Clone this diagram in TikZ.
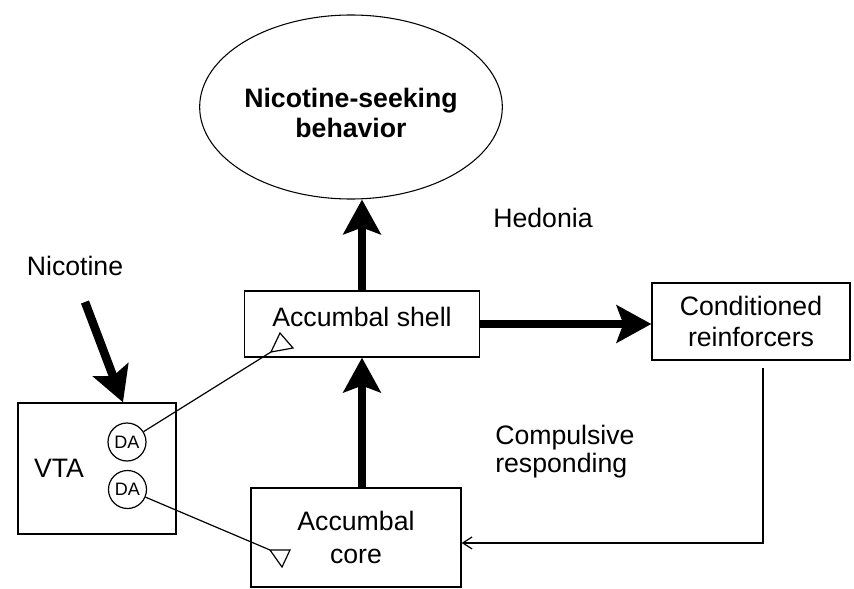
\documentclass[tikz,border=0pt]{standalone}
\usepackage{fontspec}
\setmainfont{Liberation Sans}
\usetikzlibrary{arrows.meta,shapes.geometric}
\begin{document}
\begin{tikzpicture}[x=0.75pt,y=-0.75pt,
  box/.style={draw, line width=1pt, rectangle, inner sep=0pt},
  lbl/.style={font=\fontsize{20}{23}\selectfont, inner sep=0pt},
  big/.style={line width=6.4pt, -{Stealth[length=26pt,width=28pt,inset=5pt]}},
  wire/.style={line width=0.9pt},
  danode/.style={circle, draw, line width=0.9pt, minimum size=28.5pt, inner sep=0pt, font=\fontsize{13.5}{15}\selectfont}
]
\useasboundingbox (0,0) rectangle (854,589);

% nodes
\node[ellipse, draw, line width=0.8pt, minimum width=227pt, minimum height=138pt, inner sep=0pt, align=center, font=\fontsize{20}{22.5}\selectfont\bfseries] (nsb) at (351,107) {\rule{0pt}{24pt}Nicotine-seeking\\behavior};

\node[box, lbl, minimum width=176.25pt, minimum height=49.5pt, text height=15pt, text depth=12pt] (shell) at (362,324) {Accumbal shell};

\node[box, lbl, minimum width=157.5pt, minimum height=74.25pt, align=center, font=\fontsize{20}{25}\selectfont] (core) at (356,537.5) {Accumbal\\core};

\node[box, lbl, minimum width=148.5pt, minimum height=57.75pt, align=center, font=\fontsize{20}{23.25}\selectfont] (cond) at (751,321.5) {Conditioned\\reinforcers};

\node[box, minimum width=118.5pt, minimum height=98.25pt] (vta) at (97,468.5) {};
\node[lbl, anchor=base] (vtalabel) at (59,477) {VTA};
\node[danode] (da1) at (127,442) {DA};
\node[danode] (da2) at (127.5,489.5) {DA};

\node[lbl, anchor=base] (nicotine) at (75,275) {Nicotine};
\node[lbl, anchor=base] (hedonia) at (543,227) {Hedonia};
\node[lbl, anchor=north west, align=left, font=\fontsize{20}{21}\selectfont] (compulsive) at (495,425) {Compulsive\\responding};

% thick arrows
\draw[big] (shell.north) -- (shell.north |- nsb.south);
\draw[big] (core.north -| shell.north) -- (shell.south);
\draw[big] (shell.east) -- (shell.east -| cond.west);
\coordinate (nicstart) at (85,302);
\draw[big] (nicstart) -- ([xshift=19.5pt]vta.north);

% DA projections with terminals
\coordinate (t1) at (271,352);
\draw[wire] (da1) -- (t1);
\draw[wire] (t1) -- ++(9,-19) -- ++(13,15) -- cycle;
\coordinate (t2) at (270,550);
\draw[wire] (da2) -- (t2);
\draw[wire] (t2) -- ++(20,0) -- ++(-8,17) -- cycle;

% feedback
\coordinate (fbstart) at (763,368);
\draw[wire, -{Straight Barb[length=7pt,width=9pt]}] (fbstart) |- ([yshift=-4.1pt]core.east);
\end{tikzpicture}
\end{document}
